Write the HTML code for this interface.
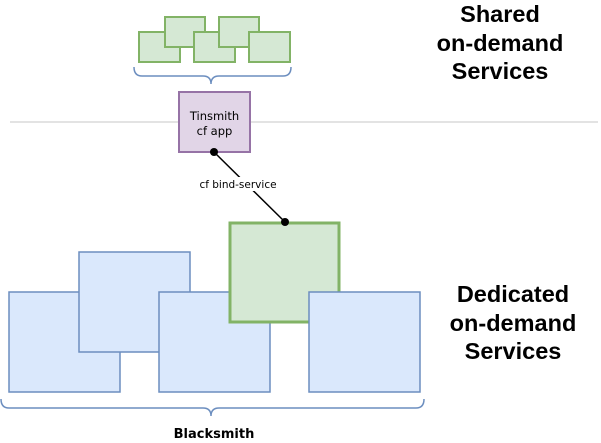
<!DOCTYPE html>
<html><head><style>
body{margin:0;background:#fff;}
svg{display:block;}
</style></head><body>
<svg width="601" height="443" viewBox="0 0 601 443" xmlns="http://www.w3.org/2000/svg">
<line x1="10" y1="122" x2="598" y2="122" stroke="#e3e3e3" stroke-width="2"/>
<g fill="#d5e8d4" stroke="#82b366" stroke-width="2">
<rect x="139" y="32" width="41" height="30"/>
<rect x="165" y="17" width="40" height="30"/>
<rect x="194" y="32" width="41" height="30"/>
<rect x="219" y="17" width="40" height="30"/>
<rect x="249" y="32" width="41" height="30"/>
</g>
<path d="M134 67 Q134 76 142 76 L203 76 Q211 76 211 84 Q211 76 219 76 L283 76 Q291 76 291 67" fill="none" stroke="#6c8ebf" stroke-width="1.5"/>
<rect x="179" y="92" width="71" height="60" fill="#e1d5e7" stroke="#9673a6" stroke-width="2"/>
<text x="214.5" y="120" font-family="DejaVu Sans, sans-serif" font-size="11.5" text-anchor="middle">Tinsmith</text>
<text x="214.5" y="135" font-family="DejaVu Sans, sans-serif" font-size="11.5" text-anchor="middle">cf app</text>
<line x1="214" y1="152" x2="285" y2="222" stroke="#000" stroke-width="1.5"/>
<rect x="199" y="177" width="80" height="14" fill="#fff"/>
<text x="238" y="188" font-family="DejaVu Sans, sans-serif" font-size="10.5" text-anchor="middle">cf bind-service</text>
<circle cx="214" cy="152" r="4" fill="#000"/>
<g fill="#dae8fc" stroke="#6c8ebf" stroke-width="1.5">
<rect x="9" y="292" width="111" height="100"/>
<rect x="79" y="252" width="111" height="100"/>
<rect x="159" y="292" width="111" height="100"/>
</g>
<rect x="230" y="223" width="109" height="99" fill="#d5e8d4" stroke="#82b366" stroke-width="3"/>
<rect x="309" y="292" width="111" height="100" fill="#dae8fc" stroke="#6c8ebf" stroke-width="1.5"/>
<circle cx="285" cy="222" r="4" fill="#000"/>
<path d="M1 399 Q1 408 9 408 L203 408 Q211 408 211 416 Q211 408 219 408 L416 408 Q424 408 424 399" fill="none" stroke="#6c8ebf" stroke-width="1.5"/>
<text x="214" y="438" font-family="DejaVu Sans, sans-serif" font-weight="bold" font-size="13" text-anchor="middle">Blacksmith</text>
<g font-family="Liberation Sans, sans-serif" font-weight="bold" font-size="23.5" text-anchor="middle">
<text x="500" y="22">Shared</text>
<text x="500" y="51">on-demand</text>
<text x="500" y="79">Services</text>
<text x="513" y="302">Dedicated</text>
<text x="513" y="331">on-demand</text>
<text x="513" y="359">Services</text>
</g>
</svg>
</body></html>
